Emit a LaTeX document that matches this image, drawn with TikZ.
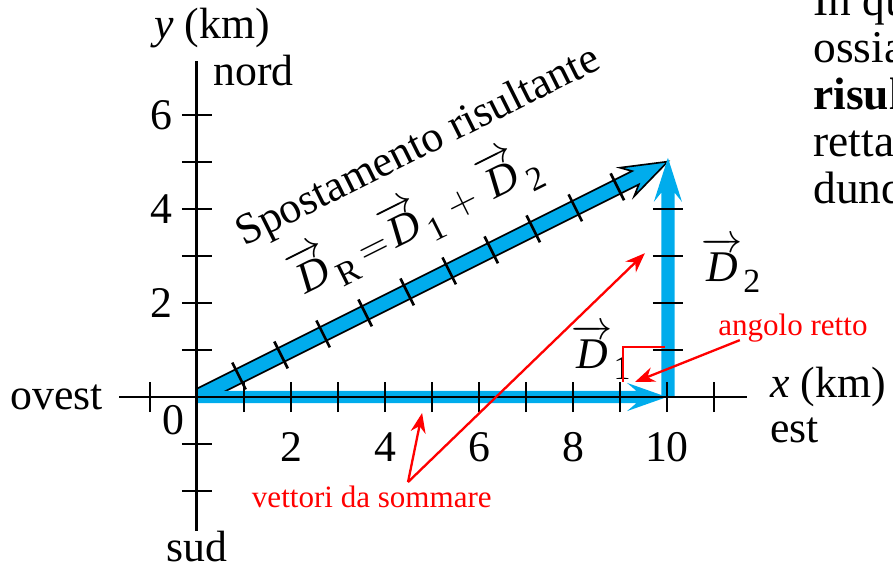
\documentclass[tikz,border=0pt]{standalone}
\usepackage{amsmath}
\usepackage{fontspec}
\setmainfont{Liberation Serif}
\usetikzlibrary{arrows.meta}
\definecolor{vecblue}{RGB}{0,172,236}
\definecolor{annred}{RGB}{255,0,0}
\newcommand{\vD}[1]{$\overrightarrow{\textit{D}}$\kern0.02em\raisebox{-0.26em}{\fontsize{20.5}{20}\selectfont #1}}
\begin{document}
\begin{tikzpicture}[x=1cm,y=1cm,
  axis/.style={line width=1.8pt},
  tickmark/.style={line width=1.6pt},
  lbl/.style={font=\fontsize{26.5}{30}\selectfont, inner sep=0pt},
  redlbl/.style={font=\fontsize{18.8}{22}\selectfont, text=annred, inner sep=0pt},
  pagetext/.style={font=\fontsize{27.5}{33}\selectfont, inner sep=0pt, anchor=base west},
  redarrow/.style={draw=annred, line width=1.4pt, -{Stealth[length=0.42cm,width=0.32cm]}},
  redline/.style={draw=annred, line width=1.3pt}]
\useasboundingbox (-4.191,-3.617) rectangle (14.809,8.447);
\clip (-4.191,-3.617) rectangle (14.809,8.447);

% resultant D_R
\begin{scope}
  \clip (0,0) rectangle (11,6);
  \begin{scope}[rotate=26.565]
    \draw[fill=vecblue, line width=1pt, line join=miter]
      (-0.5,-0.16) -- (10.43,-0.16) -- (10.23,-0.34) -- (11.2,0)
      -- (10.23,0.34) -- (10.43,0.16) -- (-0.5,0.16) -- cycle;
    \foreach \s in {1,...,10} \draw[tickmark] (\s,-0.32) -- (\s,0.32);
  \end{scope}
\end{scope}

% D_1
\fill[vecblue] (0,-0.13) -- (9.35,-0.13) -- (9.15,-0.3) -- (10,0)
  -- (9.15,0.3) -- (9.35,0.13) -- (0,0.13) -- cycle;
% D_2
\fill[vecblue] (9.88,0) -- (9.88,4.35) -- (9.72,4.15) -- (10.02,5.09)
  -- (10.32,4.15) -- (10.16,4.35) -- (10.16,0) -- cycle;

% axes
\draw[axis] (-1.65,0) -- (11.7,0);
\draw[axis] (0,-2.85) -- (0,7.15);
\foreach \i in {-1,1,2,...,11} \draw[tickmark] (\i,-0.32) -- (\i,0.32);
\foreach \j in {-2,-1,1,2,...,6} \draw[tickmark] (-0.32,\j) -- (0.32,\j);
\foreach \j in {1,...,4} \draw[tickmark] (9.7,\j) -- (10.34,\j);

% labels
\node[lbl] (ylab) at (0.32,7.85) {\textit{y} (km)};
\node[lbl, anchor=base west] (nord) at (0.34,6.62) {nord};
\node[lbl, anchor=east] (y6) at (-0.52,6) {6};
\node[lbl, anchor=east] (y4) at (-0.52,4) {4};
\node[lbl, anchor=east] (y2) at (-0.52,2) {2};
\node[lbl, anchor=east] (ovest) at (-2.0,0) {ovest};
\node[lbl] (zero) at (-0.51,-0.5) {0};
\foreach \i in {2,4,...,10} \node[lbl] (xl\i) at (\i,-1.06) {\i};
\node[lbl, anchor=west] (xlab) at (12.19,0.21) {\textit{x} (km)};
\node[lbl, anchor=west] (est) at (12.19,-0.72) {est};
\node[lbl] (sud) at (0,-3.18) {sud};
\node[lbl, rotate=26.565] (spost) at (4.72,5.3) {Spostamento risultante};
\node[lbl, rotate=26.565] (dreq) at (4.64,3.74) {\vD{R}\,$=$\vD{1} $+$ \vD{2}};
\node[lbl] (d1) at (8.6,0.96) {\vD{1}};
\node[lbl] (d2) at (11.36,2.81) {\vD{2}};

% red annotations
\draw[redline] (9.06,0.32) -- (9.06,1.06) -- (9.96,1.06);
\node[redlbl] (angolo) at (12.68,1.47) {angolo retto};
\coordinate (angtail) at (11.55,1.21);
\coordinate (anghead) at (9.32,0.32);
\draw[redarrow] (angtail) -- (anghead);
\node[redlbl] (vettori) at (3.72,-2.13) {vettori da sommare};
\coordinate (vtail) at (4.49,-1.81);
\coordinate (vhead1) at (4.79,-0.34);
\coordinate (vhead2) at (9.53,3.06);
\draw[redarrow] (vtail) -- (vhead1);
\draw[redarrow] (vtail) -- (vhead2);

% page text cut by the right edge
\node[pagetext] (t1) at (13.11,8.11) {In qu};
\node[pagetext] (t2) at (13.11,7.11) {ossia};
\node[pagetext] (t3) at (13.11,6.11) {\textbf{risul}};
\node[pagetext] (t4) at (13.11,5.11) {rettan};
\node[pagetext] (t5) at (13.11,4.11) {dunq};
\end{tikzpicture}
\end{document}
